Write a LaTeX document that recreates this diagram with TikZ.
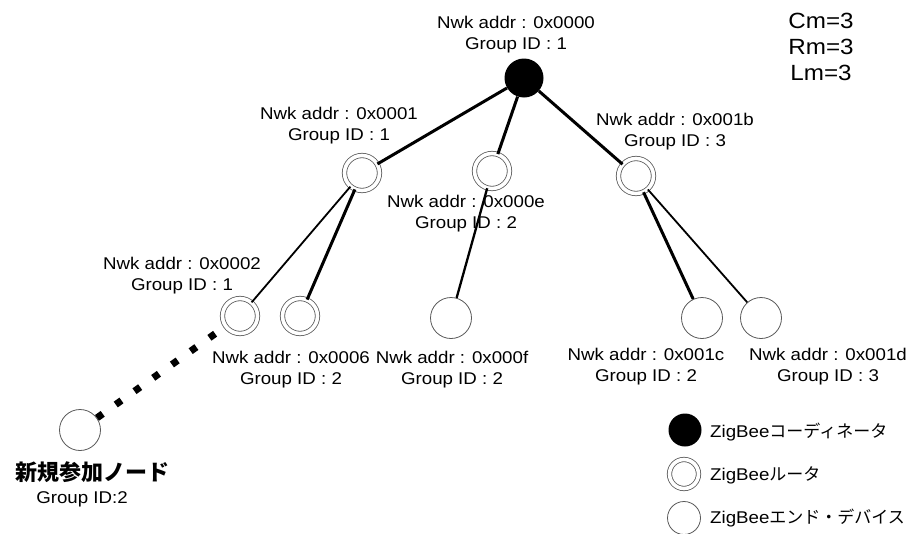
\documentclass[tikz,border=0pt]{standalone}
\usepackage{fontspec}
\setmainfont{Liberation Sans}[FakeStretch=1.1]
\newfontfamily\jpfont{Noto Sans CJK JP}
\usetikzlibrary{positioning}
\tikzset{font=\fontsize{17}{21}\selectfont}
\tikzset{coordinator/.style={circle,fill=black,minimum size=39pt,inner sep=0pt},
  router/.style={circle,draw=black!65,line width=.8pt,double=white,double distance=3.6pt,minimum size=35pt,inner sep=0pt},
  enddev/.style={circle,draw=black!65,line width=.8pt,minimum size=41pt,inner sep=0pt},
  addr/.style={align=center,inner sep=0pt},
  thickln/.style={line width=3pt},
  thinln/.style={line width=1.8pt}}

\begin{document}
\begin{tikzpicture}[x=1pt,y=-1pt]
  \useasboundingbox (0,0) rectangle (910,533);
  \node[coordinator] (coord) at (524,78) {};
  \node[router] (r1) at (362,173) {};
  \node[router] (re) at (492,171) {};
  \node[router] (rb) at (636,176) {};
  \node[router] (r2) at (240,316) {};
  \node[router] (r6) at (300,316) {};
  \node[enddev] (ef) at (451,318) {};
  \node[enddev] (ec) at (702,318) {};
  \node[enddev] (ed) at (761,318) {};
  \node[enddev] (newnode) at (80,430) {};

  \draw[thickln] (coord) -- (r1);
  \draw[thickln] (coord) -- (re);
  \draw[thickln] (coord) -- (rb);
  \draw[thinln] (r1) -- (r2);
  \draw[thickln] (r1) -- (r6);
  \draw[line width=2.3pt] (re) -- (ef);
  \draw[thickln] (rb) -- (ec);
  \draw[thinln] (rb) -- (ed);
  \draw[line width=7pt,dash pattern=on 7pt off 16pt] (newnode) -- (r2);

  \node[addr] (lcoord) at (516,35) {Nwk addr : 0x0000\\Group ID : 1};
  \node[addr] (lr1) at (339,126) {Nwk addr : 0x0001\\Group ID : 1};
  \node[addr] (lre) at (466,214) {Nwk addr : 0x000e\\Group ID : 2};
  \node[addr] (lrb) at (675,132) {Nwk addr : 0x001b\\Group ID : 3};
  \node[addr] (lr2) at (182,276) {Nwk addr : 0x0002\\Group ID : 1};
  \node[addr] (lr6) at (291,370) {Nwk addr : 0x0006\\Group ID : 2};
  \node[addr] (lef) at (452,370) {Nwk addr : 0x000f\\Group ID : 2};
  \node[addr] (lec) at (646,367) {Nwk addr : 0x001c\\Group ID : 2};
  \node[addr] (led) at (828,367) {Nwk addr : 0x001d\\Group ID : 3};
  \node[inner sep=0pt,font=\jpfont\bfseries\fontsize{22}{26}\selectfont] (lnew) at (92,472) {新規参加ノード};
  \node[inner sep=0pt] (lnewid) at (82,499) {Group ID:2};

  \node[addr,font=\fontsize{22}{26}\selectfont] (params) at (821,47) {Cm=3\\Rm=3\\Lm=3};

  \node[coordinator,minimum size=33pt] (legc) at (685,430) {};
  \node[router,minimum size=29pt] (legr) at (684,474) {};
  \node[enddev,minimum size=33pt] (lege) at (684,518) {};
  \node[anchor=west,inner sep=0pt] (tlegc) at (710,432) {ZigBee{\jpfont コーディネータ}};
  \node[anchor=west,inner sep=0pt] (tlegr) at (710,475) {ZigBee{\jpfont ルータ}};
  \node[anchor=west,inner sep=0pt] (tlege) at (710,518) {ZigBee{\jpfont エンド・デバイス}};
\end{tikzpicture}
\end{document}
